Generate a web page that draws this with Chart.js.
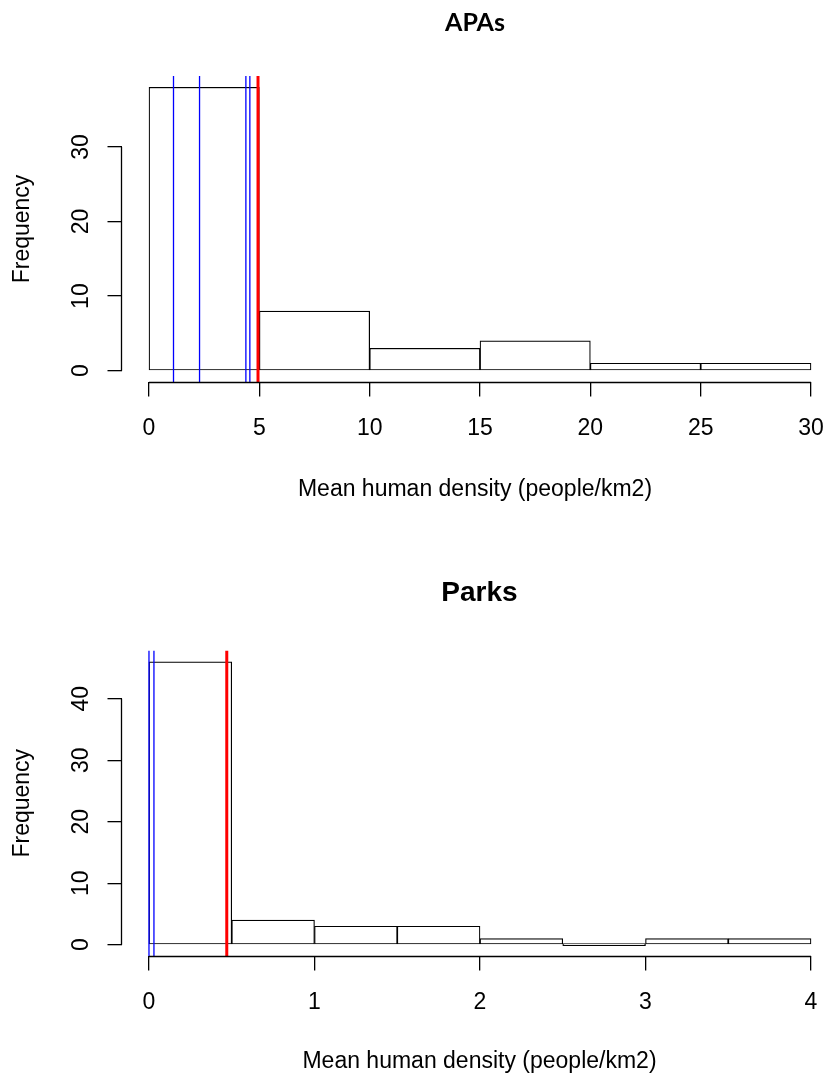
<!DOCTYPE html>
<html>
<head>
<meta charset="utf-8">
<title>Mean human density</title>
<script src="https://cdn.jsdelivr.net/npm/chart.js@4.4.1/dist/chart.umd.min.js"></script>
<style>
  html, body { margin: 0; padding: 0; background: #fff; overflow: hidden; }
  canvas { display: block; }
</style>
</head>
<body>
<canvas id="apas" width="833" height="537"></canvas>
<canvas id="parks" width="842" height="538"></canvas>
<script>
// APAs: histogram of mean human density, plus reference lines
const apaEdges = [0, 5, 10, 15, 20, 25, 30];
const apaCounts = [38, 8, 3, 4, 1, 1];
const apaXTicks = [0, 5, 10, 15, 20, 25, 30];
const apaYTicks = [0, 10, 20, 30];
const apaBlue = [1.11, 2.29, 4.39, 4.57];
const apaRed = 4.94;

// Parks
const parkEdges = [0, 0.5, 1, 1.5, 2, 2.5, 3, 3.5, 4];
const parkCounts = [46, 4, 3, 3, 1, 0, 1, 1];
const parkXTicks = [0, 1, 2, 3, 4];
const parkYTicks = [0, 10, 20, 30, 40];
const parkBlue = [0, 0.03];
const parkRed = 0.47;

const axisFont = { family: "'Liberation Sans', Arial, sans-serif", size: 23 };

// base-R style axis lines: only from the first to the last tick
const rAxes = {
  id: 'rAxes',
  afterDraw(chart) {
    const { ctx, chartArea, scales: { x, y } } = chart;
    const x0 = x.getPixelForValue(x.ticks[0].value);
    const x1 = x.getPixelForValue(x.ticks[x.ticks.length - 1].value);
    const y0 = y.getPixelForValue(y.ticks[0].value);
    const y1 = y.getPixelForValue(y.ticks[y.ticks.length - 1].value);
    const bx = Math.round(chartArea.bottom) + 0.5;
    const lx = Math.round(chartArea.left) - 0.5;
    ctx.save();
    ctx.strokeStyle = '#000';
    ctx.lineWidth = 1.3;
    ctx.beginPath();
    ctx.moveTo(x0, bx);
    ctx.lineTo(x1, bx);
    ctx.moveTo(lx, y0);
    ctx.lineTo(lx, y1);
    ctx.stroke();
    ctx.restore();
  }
};

function binCentres(edges) {
  return edges.slice(1).map((e, i) => (edges[i] + e) / 2);
}

function vline(value, colour, width, yRange) {
  return {
    type: 'line',
    data: [{ x: value, y: yRange[0] }, { x: value, y: yRange[1] }],
    borderColor: colour,
    borderWidth: width,
    pointRadius: 0,
    order: 0
  };
}

function histogram(id, h) {
  const centres = binCentres(h.edges);
  return new Chart(document.getElementById(id), {
    type: 'bar',
    data: {
      datasets: [
        {
          data: centres.map((c, i) => ({ x: c, y: h.counts[i] })),
          backgroundColor: '#fff',
          borderColor: '#000',
          borderWidth: 1.2,
          borderSkipped: false,
          barPercentage: 1,
          categoryPercentage: 1,
          minBarLength: 2,
          order: 2
        },
        ...h.blue.map(v => vline(v, '#0000ff', 1.3, h.yRange)),
        vline(h.red, '#ff0000', 3, h.yRange)
      ]
    },
    options: {
      responsive: false,
      animation: false,
      layout: { padding: { left: 0, right: h.padRight, top: 0, bottom: 0 } },
      plugins: {
        legend: { display: false },
        tooltip: { enabled: false },
        title: {
          display: true,
          text: h.title,
          fullSize: false,
          color: '#000',
          font: h.titleFont,
          padding: h.titlePad
        }
      },
      scales: {
        x: {
          type: 'linear',
          min: h.xRange[0],
          max: h.xRange[1],
          offset: false,
          afterBuildTicks: s => { s.ticks = h.xTicks.map(v => ({ value: v })); },
          afterFit: s => {
            s.height = h.xAxisHeight;
            s.paddingLeft = 0;
            s.paddingRight = 0;
          },
          grid: { display: true, offset: false, drawOnChartArea: false, drawTicks: true, tickLength: 14.5, color: '#000', lineWidth: 1.3 },
          border: { display: false },
          ticks: { font: axisFont, color: '#000', padding: 18, maxRotation: 0, autoSkip: false },
          title: { display: true, text: 'Mean human density (people/km2)', font: axisFont, color: '#000', padding: { top: 0, bottom: h.xTitlePad } }
        },
        y: {
          type: 'linear',
          min: h.yRange[0],
          max: h.yRange[1],
          afterBuildTicks: s => { s.ticks = h.yTicks.map(v => ({ value: v })); },
          afterFit: s => {
            s.width = 122;
            s.paddingTop = 0;
            s.paddingBottom = 0;
          },
          grid: { display: true, drawOnChartArea: false, drawTicks: true, tickLength: 14.5, color: '#000', lineWidth: 1.3 },
          border: { display: false },
          ticks: { font: axisFont, color: '#000', padding: 13.5, minRotation: 90, maxRotation: 90, crossAlign: 'center', autoSkip: false },
          title: { display: true, text: 'Frequency', font: axisFont, color: '#000', padding: { top: 9, bottom: 0 } }
        }
      }
    },
    plugins: [rAxes]
  });
}

histogram('apas', {
  title: 'APAs',
  titleFont: { family: "Lato, 'Open Sans', sans-serif", weight: 'bold', size: 25 },
  titlePad: { top: 8.3, bottom: 37.7 },
  edges: apaEdges, counts: apaCounts,
  xTicks: apaXTicks, yTicks: apaYTicks,
  blue: apaBlue, red: apaRed,
  xRange: [-1.224, 30.77], yRange: [-1.52, 39.52],
  padRight: 5, xAxisHeight: 155, xTitlePad: 34
});

histogram('parks', {
  title: 'Parks',
  titleFont: { family: "'Liberation Sans', Arial, sans-serif", weight: 'bold', size: 28 },
  titlePad: { top: 39.5, bottom: 40.4 },
  edges: parkEdges, counts: parkCounts,
  xTicks: parkXTicks, yTicks: parkYTicks,
  blue: parkBlue, red: parkRed,
  xRange: [-0.163, 4.157], yRange: [-1.84, 47.84],
  padRight: 5, xAxisHeight: 119, xTitlePad: 0
});
</script>
</body>
</html>
